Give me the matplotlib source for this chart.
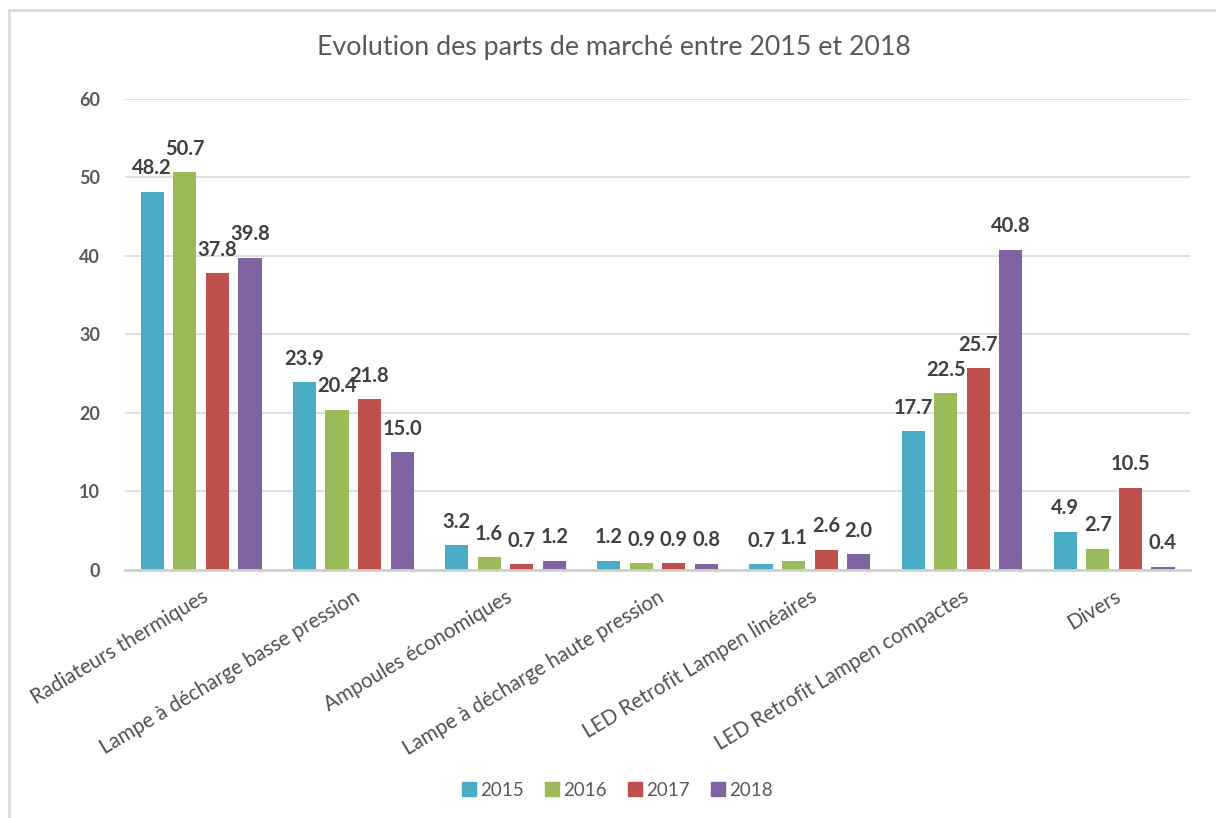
import numpy as np
import matplotlib.pyplot as plt
from matplotlib.lines import Line2D

categories = ['Radiateurs thermiques', 'Lampe à décharge basse pression',
              'Ampoules économiques', 'Lampe à décharge haute pression',
              'LED Retrofit Lampen linéaires', 'LED Retrofit Lampen compactes',
              'Divers']
years = ['2015', '2016', '2017', '2018']
v2015 = [48.2, 23.9, 3.2, 1.2, 0.7, 17.7, 4.9]
v2016 = [50.7, 20.4, 1.6, 0.9, 1.1, 22.5, 2.7]
v2017 = [37.8, 21.8, 0.7, 0.9, 2.6, 25.7, 10.5]
v2018 = [39.8, 15.0, 1.2, 0.8, 2.0, 40.8, 0.4]
colors = ['#4BACC6', '#9BBB59', '#C0504D', '#8064A2']

plt.rcParams['font.family'] = ['Lato', 'DejaVu Sans']

fig = plt.figure(figsize=(12.16, 8.18), dpi=100)
ax = fig.add_axes([0.1028, 0.3032, 0.876, 0.5758])

x = np.arange(len(categories))
slot = 0.214
width = 0.152
for i, (vals, c, yr) in enumerate(zip([v2015, v2016, v2017, v2018], colors, years)):
    pos = x + (i - 1.5) * slot
    bars = ax.bar(pos, vals, width, color=c, label=yr, zorder=3)
    for b, v in zip(bars, vals):
        ax.text(b.get_x() + b.get_width() / 2, v + 1.7, f'{v:.1f}',
                ha='center', va='bottom', fontsize=14.5, fontweight='bold',
                color='#404040')

ax.set_xlim(-0.5, len(categories) - 0.5)
ax.set_ylim(0, 60)
ax.set_yticks(range(0, 61, 10))
ax.yaxis.grid(True, color='#d9d9d9', linewidth=1.2, zorder=0)
ax.tick_params(axis='y', length=0, pad=18, labelsize=13, labelcolor='#595959')
for lab in ax.get_yticklabels():
    lab.set_fontweight('bold')
ax.set_xticks(x)
ax.set_xticklabels(categories, rotation=31, ha='right', rotation_mode='anchor',
                   fontsize=14.8, color='#505050')
ax.tick_params(axis='x', length=0, pad=12)
for s in ['top', 'right', 'left']:
    ax.spines[s].set_visible(False)
ax.spines['bottom'].set_color('#d0d0d0')
ax.spines['bottom'].set_linewidth(2)
ax.spines['bottom'].set_zorder(4)

fig.text(0.505, 0.942, 'Evolution des parts de marché entre 2015 et 2018',
         ha='center', va='center', fontsize=19.3, color='#595959')

handles = [Line2D([], [], marker='s', linestyle='', markersize=10,
                  markerfacecolor=c, markeredgecolor=c) for c in colors]
fig.legend(handles, years, loc='center', bbox_to_anchor=(0.507, 0.034),
           ncol=4, frameon=False, fontsize=13.5, handletextpad=0.1,
           handlelength=1.0, columnspacing=1.0, labelcolor='#595959')

# frame of the chart area
fig.add_artist(Line2D([0.007, 0.007], [0.0, 0.988], transform=fig.transFigure,
                      color='#d9d9d9', linewidth=2))
fig.add_artist(Line2D([0.007, 1.0], [0.988, 0.988], transform=fig.transFigure,
                      color='#d9d9d9', linewidth=2))

fig.savefig('out.png', dpi=100)
